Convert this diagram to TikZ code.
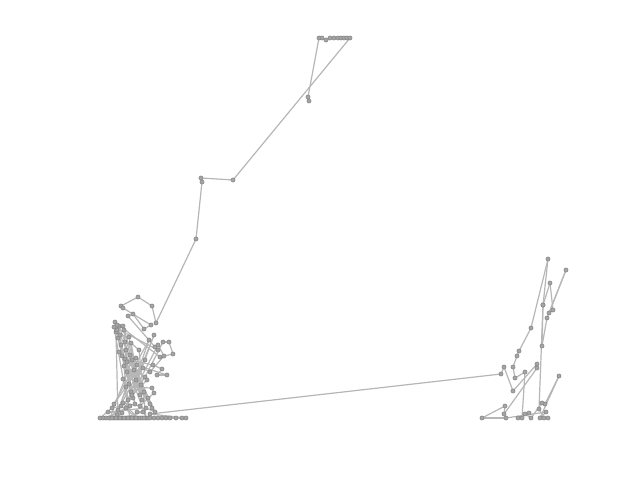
\documentclass[tikz,border=0pt]{standalone}
\usepackage{tikz}

\definecolor{traceline}{RGB}{182,182,182}
\definecolor{dotgray}{RGB}{165,165,165}

\begin{document}
\begin{tikzpicture}[
    x=1pt, y=-1pt,
    ptdot/.style={
      circle,
      fill=dotgray,
      draw=dotgray!75!black,
      line width=0.4pt,
      inner sep=1.5pt
    },
    trace/.style={
      draw=traceline,
      line width=1.2pt
    }
    ]
    \useasboundingbox (0,0) rectangle (640,480);

    % the walk, point by point
    \foreach \px/\py [count=\i] in {
      309/101, 308/97, 319/38, 322/38, 326/40, 330/38, 334/38, 338/38,
      341/38, 344/38, 347/38, 350/38, 233/180, 201/178, 202/182, 196/239,
      156/323, 152/306, 138/297, 121/306, 123/308, 151/325, 144/329,
      133/314, 128/316, 155/347, 158/350, 114/327, 130/418, 119/326,
      125/342, 140/395, 123/326, 116/332, 118/418, 145/377, 163/342,
      169/342, 173/354, 160/357,
      115/322, 133/398, 117/325, 135/404, 117/330, 131/392, 118/338,
      129/384, 121/345, 148/398, 119/352, 150/404, 122/356, 144/392,
      124/330, 127/372, 126/350, 141/385, 130/355, 152/408, 124/366,
      136/380, 134/370, 118/410, 145/360, 114/404, 149/340, 128/400,
      154/335, 132/395, 158/345, 164/356, 150/372, 143/368, 136/358,
      117/415, 122/413, 108/412, 146/408, 155/412,
      120/335, 129/337, 142/400, 131/343,
      139/350, 146/418, 125/359, 153/365, 162/369, 157/375, 167/375,
      127/362, 147/380, 110/418, 132/360, 137/365, 123/379, 126/387,
      152/388, 154/393, 140/406, 123/403, 138/418, 121/406, 112/408,
      100/418, 103/418, 106/418, 126/408, 130/406, 114/418, 122/418,
      143/412, 137/412, 134/418, 126/418, 109/418, 112/418, 116/418,
      120/418, 124/418, 128/418, 132/418, 136/418, 140/418, 142/418,
      144/418, 148/418, 150/418, 154/418, 158/418, 162/418, 166/418,
      170/418, 176/418, 182/418, 186/418, 150/414,
      501/374, 504/367, 513/391, 537/364, 537/368, 504/414, 505/406,
      482/418, 506/418, 546/412, 540/418, 559/376, 545/404, 542/403,
      531/418, 525/414, 529/413, 518/418, 522/418, 525/372, 515/378,
      513/367, 517/356, 519/351, 531/328, 548/259, 543/305, 542/346,
      547/318, 566/270, 549/313, 553/310, 550/283, 543/305, 539/409,
      544/418, 548/418}
      {
        \coordinate (p\i) at (\px,\py);
        \xdef\npts{\i}
      }

    % connectors
    \foreach \i [remember=\i as \j (initially 1)] in {2,...,\npts}
      \draw[trace] (p\j) -- (p\i);

    % markers
    \foreach \i in {1,...,\npts}
      \node[ptdot] (m\i) at (p\i) {};

    \end{tikzpicture}
\end{document}
